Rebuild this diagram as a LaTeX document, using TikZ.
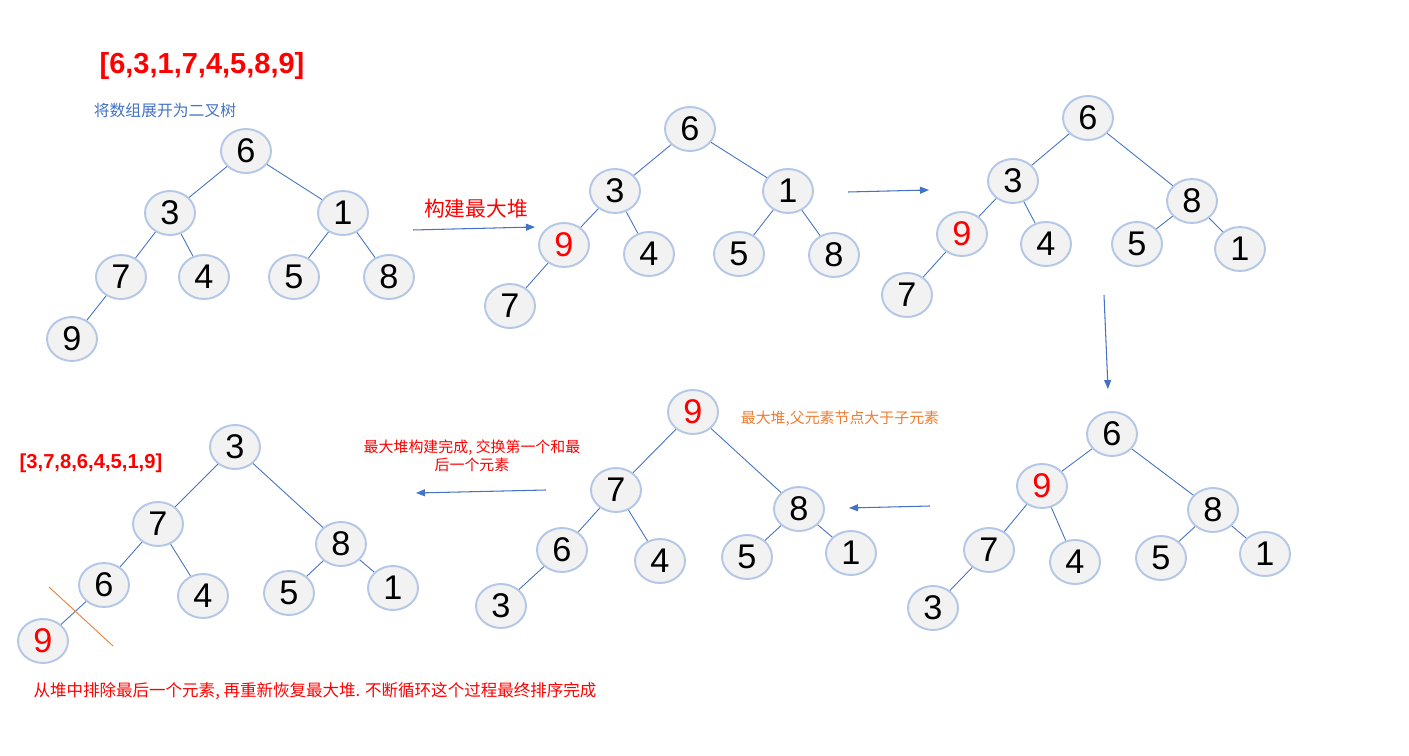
\documentclass[tikz,border=0pt]{standalone}
\usepackage{fontspec}
\setmainfont{Liberation Sans}
\newfontfamily\cjk{Noto Sans CJK SC}
\usetikzlibrary{shapes.geometric, arrows.meta}
\definecolor{edgeblue}{HTML}{4472C4}
\definecolor{ringblue}{HTML}{B4C7E7}
\definecolor{ballgray}{HTML}{F2F2F2}
\definecolor{noteorange}{HTML}{ED7D31}

\begin{document}
\begin{tikzpicture}[
  x=0.02cm, y=-0.02cm,
  hnode/.style={ellipse, draw=ringblue, fill=ballgray, line width=1.1pt,
    minimum width=1cm, minimum height=0.88cm, inner sep=0pt,
    font=\fontsize{19.5}{19.5}\selectfont},
  hot/.style={hnode, text=red},
  lnk/.style={draw=edgeblue, line width=0.5pt},
  arr/.style={-{Triangle[length=1.8mm, width=1.4mm]}, draw=edgeblue, line width=0.6pt},
  note/.style={font=\cjk\fontsize{8.5}{10}\selectfont, align=center}
]
  \useasboundingbox (0,0) rectangle (1409,756);

  % titles and notes
  \node[text=red, font=\bfseries\fontsize{16.5}{18}\selectfont] (arrA) at (202,66) {[6,3,1,7,4,5,8,9]};
  \node[note, text=edgeblue, font=\cjk\fontsize{9}{10}\selectfont] (txtA) at (165,111) {将数组展开为二叉树};
  \node[text=red, font=\cjk\fontsize{11.8}{13}\selectfont] (txtB) at (476,209) {构建最大堆};
  \node[note, text=noteorange] (txtE) at (840,419) {最大堆,父元素节点大于子元素};
  \node[note, text=red] (txtF) at (472,456) {最大堆构建完成, 交换第一个和最\\后一个元素};
  \node[text=red, font=\bfseries\fontsize{11.5}{13}\selectfont] (arrF) at (91,463) {[3,7,8,6,4,5,1,9]};
  \node[note, text=red, font=\cjk\fontsize{9.4}{11}\selectfont] (txtG) at (315,691) {从堆中排除最后一个元素, 再重新恢复最大堆. 不断循环这个过程最终排序完成};

  % tree a: the array as a binary tree
  \node[hnode] (a6) at (246,151) {6};
  \node[hnode] (a3) at (170,213) {3};
  \node[hnode] (a1) at (343,213) {1};
  \node[hnode] (a7) at (121,277) {7};
  \node[hnode] (a4) at (204,277) {4};
  \node[hnode] (a5) at (294,277) {5};
  \node[hnode] (a8) at (389,277) {8};
  \node[hnode] (a9) at (72,339) {9};
  \draw[lnk] (a6) -- (a3);
  \draw[lnk] (a6) -- (a1);
  \draw[lnk] (a3) -- (a7);
  \draw[lnk] (a3) -- (a4);
  \draw[lnk] (a1) -- (a5);
  \draw[lnk] (a1) -- (a8);
  \draw[lnk] (a7) -- (a9);

  % tree b
  \node[hnode] (b6) at (690,129) {6};
  \node[hnode] (b3) at (615,191) {3};
  \node[hnode] (b1) at (788,191) {1};
  \node[hot]   (b9) at (564,245) {9};
  \node[hnode] (b4) at (649,254) {4};
  \node[hnode] (b5) at (739,254) {5};
  \node[hnode] (b8) at (834,255) {8};
  \node[hnode] (b7) at (510,306) {7};
  \draw[lnk] (b6) -- (b3);
  \draw[lnk] (b6) -- (b1);
  \draw[lnk] (b3) -- (b9);
  \draw[lnk] (b3) -- (b4);
  \draw[lnk] (b1) -- (b5);
  \draw[lnk] (b1) -- (b8);
  \draw[lnk] (b9) -- (b7);

  % tree c
  \node[hnode] (c6) at (1088,118) {6};
  \node[hnode] (c3) at (1013,181) {3};
  \node[hnode] (c8) at (1192,201) {8};
  \node[hot]   (c9) at (962,234) {9};
  \node[hnode] (c4) at (1046,244) {4};
  \node[hnode] (c5) at (1137,244) {5};
  \node[hnode] (c1) at (1240,249) {1};
  \node[hnode] (c7) at (907,295) {7};
  \draw[lnk] (c6) -- (c3);
  \draw[lnk] (c6) -- (c8);
  \draw[lnk] (c3) -- (c9);
  \draw[lnk] (c3) -- (c4);
  \draw[lnk] (c8) -- (c5);
  \draw[lnk] (c8) -- (c1);
  \draw[lnk] (c9) -- (c7);

  % tree d
  \node[hnode] (d6) at (1112,434) {6};
  \node[hot]   (d9) at (1042,486) {9};
  \node[hnode] (d8) at (1213,510) {8};
  \node[hnode] (d7) at (989,550) {7};
  \node[hnode] (d4) at (1075,562) {4};
  \node[hnode] (d5) at (1161,558) {5};
  \node[hnode] (d1) at (1265,554) {1};
  \node[hnode] (d3) at (933,608) {3};
  \draw[lnk] (d6) -- (d9);
  \draw[lnk] (d6) -- (d8);
  \draw[lnk] (d9) -- (d7);
  \draw[lnk] (d9) -- (d4);
  \draw[lnk] (d8) -- (d5);
  \draw[lnk] (d8) -- (d1);
  \draw[lnk] (d7) -- (d3);

  % tree e: max heap
  \node[hot]   (e9) at (693,412) {9};
  \node[hnode] (e7) at (616,490) {7};
  \node[hnode] (e8) at (799,509) {8};
  \node[hnode] (e6) at (562,550) {6};
  \node[hnode] (e4) at (660,561) {4};
  \node[hnode] (e5) at (747,557) {5};
  \node[hnode] (e1) at (851,553) {1};
  \node[hnode] (e3) at (501,606) {3};
  \draw[lnk] (e9) -- (e7);
  \draw[lnk] (e9) -- (e8);
  \draw[lnk] (e7) -- (e6);
  \draw[lnk] (e7) -- (e4);
  \draw[lnk] (e8) -- (e5);
  \draw[lnk] (e8) -- (e1);
  \draw[lnk] (e6) -- (e3);

  % tree f: after the swap
  \node[hnode] (f3) at (235,447) {3};
  \node[hnode] (f7) at (158,524) {7};
  \node[hnode] (f8) at (341,544) {8};
  \node[hnode] (f6) at (104,585) {6};
  \node[hnode] (f4) at (203,596) {4};
  \node[hnode] (f5) at (289,593) {5};
  \node[hnode] (f1) at (393,588) {1};
  \node[hot]   (f9) at (43,641) {9};
  \draw[lnk] (f3) -- (f7);
  \draw[lnk] (f3) -- (f8);
  \draw[lnk] (f7) -- (f6);
  \draw[lnk] (f7) -- (f4);
  \draw[lnk] (f8) -- (f5);
  \draw[lnk] (f8) -- (f1);
  \draw[lnk] (f6) -- (f9);
  \coordinate (cutA) at (49,587);
  \coordinate (cutB) at (113,646);
  \draw[noteorange, line width=0.5pt] (cutA) -- (cutB);

  % step arrows
  \coordinate (s1a) at (413,230);  \coordinate (s1b) at (535,227);
  \coordinate (s2a) at (848,192);  \coordinate (s2b) at (929,190);
  \coordinate (s3a) at (1104,295); \coordinate (s3b) at (1108,389);
  \coordinate (s4a) at (930,506);  \coordinate (s4b) at (849,508);
  \coordinate (s5a) at (546,490);  \coordinate (s5b) at (416,493);
  \draw[arr] (s1a) -- (s1b);
  \draw[arr] (s2a) -- (s2b);
  \draw[arr] (s3a) -- (s3b);
  \draw[arr] (s4a) -- (s4b);
  \draw[arr] (s5a) -- (s5b);
\end{tikzpicture}
\end{document}
